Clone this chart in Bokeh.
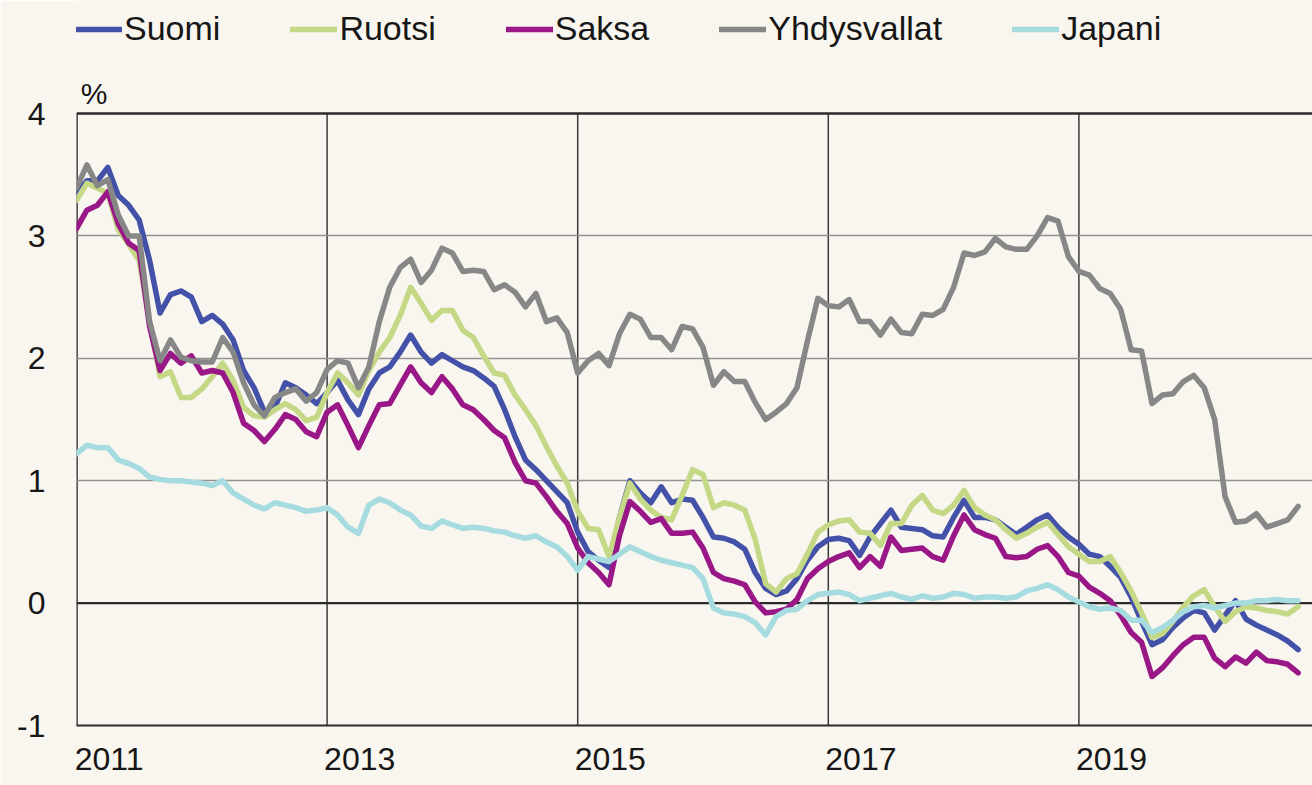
import numpy as np
from bokeh.plotting import figure
from bokeh.models import (Range1d, FixedTicker, CustomJSTickFormatter, Span,
                          Legend, LegendItem, Label)
from bokeh.embed import file_html
from bokeh.resources import INLINE

# ---------------- data (monthly, Jan 2011 - Oct 2020) ----------------
start_year = 2011
n_months = 118

suomi = [
    3.35, 3.45, 3.45, 3.56, 3.33, 3.25, 3.13, 2.80, 2.37, 2.52, 2.55, 2.50,
    2.30, 2.35, 2.28, 2.15, 1.90, 1.76, 1.56, 1.60, 1.80, 1.76, 1.70, 1.63,
    1.72, 1.82, 1.66, 1.54, 1.75, 1.88, 1.93, 2.05, 2.19, 2.05, 1.96, 2.03,
    1.98, 1.93, 1.90, 1.84, 1.77, 1.58, 1.36, 1.17, 1.09, 1.00, 0.91, 0.82,
    0.58, 0.42, 0.35, 0.29, 0.70, 1.00, 0.90, 0.82, 0.95, 0.82, 0.85, 0.84,
    0.70, 0.54, 0.53, 0.50, 0.44, 0.25, 0.12, 0.07, 0.10, 0.20, 0.35, 0.46,
    0.52, 0.53, 0.51, 0.39, 0.54, 0.65, 0.76, 0.62, 0.61, 0.60, 0.55, 0.54,
    0.70, 0.84, 0.70, 0.70, 0.68, 0.62, 0.56, 0.62, 0.68, 0.72, 0.62, 0.54,
    0.48, 0.40, 0.38, 0.30, 0.21, 0.05, -0.15, -0.34, -0.30, -0.20, -0.12, -0.06,
    -0.08, -0.22, -0.10, 0.02, -0.13, -0.18, -0.22, -0.26, -0.31, -0.38,
]
ruotsi = [
    3.29, 3.43, 3.39, 3.35, 3.05, 2.93, 2.80, 2.30, 1.85, 1.89, 1.68, 1.68,
    1.75, 1.85, 1.96, 1.82, 1.60, 1.53, 1.52, 1.58, 1.63, 1.58, 1.49, 1.52,
    1.72, 1.88, 1.80, 1.70, 1.90, 2.05, 2.17, 2.35, 2.58, 2.45, 2.31, 2.39,
    2.39, 2.23, 2.17, 2.02, 1.88, 1.86, 1.70, 1.58, 1.45, 1.28, 1.12, 0.98,
    0.75, 0.61, 0.60, 0.38, 0.70, 0.98, 0.85, 0.76, 0.70, 0.68, 0.88, 1.09,
    1.05, 0.78, 0.82, 0.80, 0.76, 0.52, 0.16, 0.09, 0.20, 0.24, 0.40, 0.58,
    0.64, 0.67, 0.68, 0.58, 0.57, 0.47, 0.65, 0.65, 0.80, 0.88, 0.76, 0.73,
    0.80, 0.92, 0.78, 0.72, 0.68, 0.60, 0.53, 0.57, 0.62, 0.66, 0.56, 0.46,
    0.40, 0.34, 0.34, 0.38, 0.25, 0.10, -0.08, -0.28, -0.25, -0.15, -0.03, 0.06,
    0.11, -0.03, -0.15, -0.07, -0.03, -0.04, -0.06, -0.07, -0.09, -0.03,
]
saksa = [
    3.06, 3.21, 3.25, 3.36, 3.10, 2.94, 2.88, 2.26, 1.90, 2.04, 1.96, 2.02,
    1.88, 1.90, 1.88, 1.72, 1.47, 1.41, 1.32, 1.42, 1.54, 1.50, 1.40, 1.36,
    1.56, 1.62, 1.45, 1.27, 1.45, 1.62, 1.63, 1.78, 1.93, 1.80, 1.72, 1.85,
    1.75, 1.62, 1.58, 1.50, 1.41, 1.35, 1.15, 1.00, 0.98, 0.87, 0.75, 0.65,
    0.45, 0.33, 0.25, 0.15, 0.55, 0.83, 0.75, 0.66, 0.69, 0.57, 0.57, 0.58,
    0.45, 0.25, 0.20, 0.18, 0.15, 0.01, -0.08, -0.07, -0.05, 0.03, 0.20, 0.28,
    0.34, 0.38, 0.41, 0.29, 0.38, 0.30, 0.54, 0.43, 0.44, 0.45, 0.38, 0.35,
    0.55, 0.72, 0.60, 0.56, 0.53, 0.38, 0.37, 0.38, 0.44, 0.47, 0.38, 0.25,
    0.22, 0.13, 0.08, 0.02, -0.10, -0.24, -0.32, -0.60, -0.53, -0.43, -0.34, -0.28,
    -0.28, -0.45, -0.52, -0.44, -0.49, -0.40, -0.47, -0.48, -0.50, -0.57,
]
yhdysvallat = [
    3.39, 3.58, 3.41, 3.46, 3.17, 3.00, 3.00, 2.30, 1.98, 2.15, 2.01, 1.98,
    1.97, 1.97, 2.17, 2.05, 1.80, 1.62, 1.53, 1.68, 1.72, 1.75, 1.65, 1.72,
    1.91, 1.98, 1.96, 1.76, 1.93, 2.30, 2.58, 2.74, 2.81, 2.62, 2.72, 2.90,
    2.86, 2.71, 2.72, 2.71, 2.56, 2.60, 2.54, 2.42, 2.53, 2.30, 2.33, 2.21,
    1.88, 1.98, 2.04, 1.94, 2.20, 2.36, 2.32, 2.17, 2.17, 2.07, 2.26, 2.24,
    2.09, 1.78, 1.89, 1.81, 1.81, 1.64, 1.50, 1.56, 1.63, 1.76, 2.14, 2.49,
    2.43, 2.42, 2.48, 2.30, 2.30, 2.19, 2.32, 2.21, 2.20, 2.36, 2.35, 2.40,
    2.58, 2.86, 2.84, 2.87, 2.98, 2.91, 2.89, 2.89, 3.00, 3.15, 3.12, 2.83,
    2.71, 2.68, 2.57, 2.53, 2.40, 2.07, 2.06, 1.63, 1.70, 1.71, 1.81, 1.86,
    1.76, 1.50, 0.87, 0.66, 0.67, 0.73, 0.62, 0.65, 0.68, 0.79,
]
japani = [
    1.22, 1.29, 1.27, 1.27, 1.17, 1.14, 1.10, 1.03, 1.01, 1.00, 1.00, 0.99,
    0.98, 0.96, 1.00, 0.90, 0.85, 0.80, 0.77, 0.82, 0.80, 0.78, 0.75, 0.76,
    0.78, 0.72, 0.62, 0.57, 0.80, 0.85, 0.82, 0.76, 0.72, 0.63, 0.61, 0.67,
    0.64, 0.61, 0.62, 0.61, 0.59, 0.58, 0.55, 0.53, 0.55, 0.50, 0.46, 0.38,
    0.27, 0.38, 0.36, 0.34, 0.40, 0.46, 0.42, 0.38, 0.35, 0.33, 0.31, 0.29,
    0.20, -0.04, -0.08, -0.09, -0.11, -0.16, -0.26, -0.11, -0.06, -0.05, 0.02, 0.07,
    0.08, 0.09, 0.07, 0.02, 0.04, 0.06, 0.08, 0.05, 0.03, 0.06, 0.04, 0.05,
    0.08, 0.07, 0.04, 0.05, 0.05, 0.04, 0.05, 0.10, 0.12, 0.15, 0.11, 0.05,
    0.01, -0.03, -0.05, -0.04, -0.06, -0.14, -0.14, -0.24, -0.20, -0.14, -0.07, -0.03,
    -0.02, -0.04, -0.02, 0.00, 0.00, 0.02, 0.02, 0.03, 0.02, 0.02,
]

series_names = ["Suomi", "Ruotsi", "Saksa", "Yhdysvallat", "Japani"]
series_values = [suomi, ruotsi, saksa, yhdysvallat, japani]
series_colors = ["#4352A8", "#C4D886", "#991787", "#878787", "#A6DCE0"]

year_labels = [2011, 2013, 2015, 2017, 2019]
y_ticks = [-1, 0, 1, 2, 3, 4]
y_min, y_max = -1, 4
unit_label = "%"

for s in series_values:
    assert len(s) == n_months

x = [start_year + m / 12.0 for m in range(n_months)]

BG = "#F9F6EF"
FONT = "Liberation Sans"
DARK = "#2a2a2a"

# frame spans the whole height so that legend and unit label are not clipped;
# value axis itself runs from -1 to 4 (top at 113 px, bottom at 725 px)
px_per_unit = (725 - 113) / (y_max - y_min)
y_top = y_max + 113 / px_per_unit
x_end = start_year + (1312 - 76) / 125.3

p = figure(width=1312, height=785, output_backend="svg", toolbar_location=None,
           x_range=Range1d(start_year, x_end), y_range=Range1d(y_min, y_top),
           min_border_left=76, min_border_right=0, min_border_top=0,
           min_border_bottom=60, background_fill_color=BG,
           border_fill_color=BG, outline_line_color=None)

# grids
p.xgrid.grid_line_color = None
p.ygrid.ticker = FixedTicker(ticks=[1, 2, 3])
p.ygrid.grid_line_color = "#929292"
p.ygrid.grid_line_width = 1.5

vg = year_labels[1:]
p.segment(x0=vg, y0=[y_min] * len(vg), x1=vg, y1=[y_max] * len(vg),
          line_color="#3a3a3a", line_width=1.5, level="underlay")
# left axis line (only over the value range)
p.segment(x0=[start_year], y0=[y_min], x1=[start_year], y1=[y_max],
          line_color=DARK, line_width=2.6, level="underlay")

for loc, w in [(0, 2.2), (y_max, 2.6)]:
    sp = Span(location=loc, dimension="width", line_color=DARK,
              line_width=w, level="underlay")
    p.add_layout(sp)

# axes
p.xaxis.ticker = FixedTicker(ticks=[yv + 0.26 for yv in year_labels])
p.xaxis.formatter = CustomJSTickFormatter(code="return String(Math.floor(tick))")
p.yaxis.ticker = FixedTicker(ticks=y_ticks)
p.yaxis.formatter = CustomJSTickFormatter(code="return String(tick)")
for ax in (p.xaxis, p.yaxis):
    ax.major_tick_line_color = None
    ax.minor_tick_line_color = None
    ax.major_tick_out = 0
    ax.major_label_text_font = FONT
    ax.major_label_text_font_size = "32px"
    ax.major_label_text_color = "#161616"
p.xaxis.axis_line_color = DARK
p.xaxis.axis_line_width = 2.2
p.yaxis.axis_line_color = None
p.xaxis.major_label_standoff = 22
p.yaxis.major_label_standoff = 31

renderers = []
for name, vals, col in zip(series_names, series_values, series_colors):
    r = p.line(x, vals, line_color=col, line_width=5.5, line_join="round",
               line_cap="round")
    renderers.append(r)

legend = Legend(items=[LegendItem(label=n, renderers=[r])
                       for n, r in zip(series_names, renderers)],
                orientation="horizontal", location=(-1, 677),
                label_text_font=FONT, label_text_font_size="34px",
                label_text_color="#161616",
                glyph_width=47, glyph_height=20, label_standoff=2,
                spacing=70, padding=0, margin=0,
                border_line_color=None, background_fill_alpha=0)
p.add_layout(legend)

p.add_layout(Label(x=2011.14, y=y_max, text=unit_label, text_align="center",
                   text_baseline="bottom", y_offset=4, text_font=FONT,
                   text_font_size="30px", text_color="#161616"))

open("out.html", "w").write(file_html(p, INLINE))
